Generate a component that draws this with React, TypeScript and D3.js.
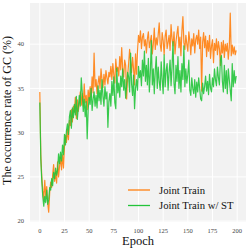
import React from "react";
import * as d3 from "d3";

const epochs: number[] = Array.from({ length: 200 }, (_, i) => i);

const jointTrain: number[] = [
  34.6, 27.5, 25.0, 23.5, 22.4, 24.6, 22.8, 23.9, 22.0, 21.0,
  23.2, 24.4, 23.8, 25.2, 26.4, 24.5, 25.5, 24.3, 26.7, 25.0,
  26.2, 27.2, 25.8, 27.5, 26.0, 28.5, 29.7, 28.9, 30.4, 29.2,
  31.4, 30.8, 32.6, 31.2, 33.0, 32.3, 34.0, 31.6, 33.7, 32.4,
  33.3, 34.6, 33.1, 34.4, 33.0, 35.5, 33.4, 34.2, 32.6, 34.8,
  33.6, 35.2, 34.0, 36.3, 34.5, 39.0, 35.2, 36.0, 34.4, 35.6,
  36.4, 35.0, 37.2, 36.0, 35.1, 36.6, 35.4, 37.0, 36.2, 35.5,
  36.8, 36.3, 37.5, 36.0, 37.8, 36.5, 35.6, 38.3, 36.9, 37.4,
  36.4, 38.6, 37.1, 39.6, 37.0, 36.3, 38.2, 37.6, 33.8, 36.5,
  37.8, 39.4, 38.0, 36.8, 38.5, 37.2, 35.4, 38.9, 36.6, 39.2,
  41.0, 40.2, 41.5, 39.5, 40.8, 41.2, 39.8, 40.5, 39.0, 40.6,
  41.4, 39.6, 40.3, 41.0, 38.9, 40.0, 41.8, 39.4, 40.7, 39.9,
  41.1, 42.4, 40.0, 39.2, 41.3, 40.4, 38.8, 40.9, 41.6, 39.5,
  40.2, 41.0, 39.3, 42.2, 40.6, 39.8, 41.4, 38.9, 40.3, 41.2,
  42.0, 39.6, 40.8, 38.7, 41.5, 43.1, 40.2, 39.4, 41.0, 40.0,
  39.2, 41.4, 40.4, 38.8, 40.6, 39.8, 41.2, 39.0, 40.5, 41.0,
  40.0, 41.6, 39.5, 40.8, 34.7, 40.2, 41.3, 39.6, 40.9, 38.6,
  40.4, 39.2, 41.0, 38.4, 39.8, 40.5, 37.9, 40.1, 39.3, 40.6,
  38.8, 40.3, 39.5, 37.6, 40.2, 39.0, 40.4, 38.5, 40.0, 39.2,
  40.1, 38.3, 39.6, 43.5, 38.7, 39.9, 38.9, 39.7, 38.8, 39.3,
];

const jointTrainST: number[] = [
  33.4, 27.0, 24.5, 22.8, 21.7, 22.8, 22.1, 23.5, 21.9, 22.4,
  23.8, 23.5, 24.8, 24.0, 25.5, 24.8, 26.0, 25.2, 25.8, 27.6,
  26.5, 27.8, 26.8, 28.6, 27.5, 29.8, 28.6, 30.2, 31.0, 29.8,
  31.8, 32.5, 30.5, 32.8, 31.7, 33.2, 32.0, 34.1, 31.5, 32.8,
  34.2, 33.0, 36.2, 34.5, 32.4, 33.8, 31.8, 33.5, 29.3, 32.6,
  34.0, 33.2, 35.0, 32.5, 33.8, 34.6, 33.0, 34.2, 32.8, 35.3,
  33.6, 34.8, 33.2, 36.0, 34.1, 33.0, 35.2, 33.8, 34.6, 30.6,
  33.5, 34.4, 33.0, 35.8, 34.2, 36.3, 33.4, 32.7, 37.3, 34.5,
  35.6, 34.0, 36.4, 35.2, 37.2, 34.8, 36.0, 33.9, 35.4, 36.8,
  36.3, 34.6, 39.0, 35.5, 34.2, 36.5, 32.7, 35.0, 36.0, 34.8,
  37.5, 36.2, 37.0, 35.3, 38.2, 36.4, 39.2, 35.8, 37.6, 35.4,
  38.4, 34.6, 36.8, 40.4, 35.4, 37.2, 34.4, 37.0, 38.6, 35.0,
  37.4, 35.8, 34.8, 38.0, 36.0, 34.4, 38.8, 35.2, 37.0, 37.8,
  34.8, 36.8, 38.2, 35.3, 37.4, 40.3, 35.6, 34.4, 37.6, 35.8,
  38.6, 35.0, 37.0, 34.6, 37.8, 36.0, 39.8, 35.2, 37.2, 35.6,
  36.6, 38.2, 34.8, 34.2, 36.2, 35.0, 34.4, 36.0, 34.0, 35.7,
  34.6, 36.2, 35.0, 33.8, 33.6, 35.6, 34.4, 35.2, 36.4, 34.7,
  35.8, 34.3, 36.6, 35.0, 34.6, 36.2, 35.2, 37.2, 36.0, 35.3,
  37.4, 36.2, 35.4, 38.2, 38.7, 35.8, 34.6, 37.6, 35.0, 37.0,
  34.4, 37.2, 36.0, 34.8, 33.6, 37.8, 35.2, 37.0, 35.6, 36.4,
];

const xTicks: number[] = [0, 25, 50, 75, 100, 125, 150, 175, 200];
const yTicks: number[] = [20, 25, 30, 35, 40];
const seriesNames: string[] = ["Joint Train", "Joint Train w/ ST"];
const seriesColors: string[] = ["#ff7f0e", "#22c43a"];

export default function App() {
  const W = 249;
  const H = 249;
  const left = 30;
  const right = 246;
  const top = 3;
  const bottom = 222;

  const x = d3.scaleLinear().domain([-9.95, 208.95]).range([left, right]);
  const y = d3.scaleLinear().domain([19.9, 44.65]).range([bottom, top]);

  const line = d3
    .line<number>()
    .x((_, i) => x(epochs[i]))
    .y((d) => y(d));

  const series = [jointTrain, jointTrainST];
  const font = "'Liberation Serif', 'DejaVu Serif', serif";

  return (
    <svg
      width={W}
      height={H}
      style={{ position: "absolute", left: 0, top: 0 }}
      fontFamily={font}
    >
      <rect x={0} y={0} width={W} height={H} fill="#ffffff" />
      <rect x={left} y={top} width={right - left} height={bottom - top} fill="#f2f2f2" />
      {xTicks.map((t) => (
        <line key={"gx" + t} x1={x(t)} x2={x(t)} y1={top} y2={bottom} stroke="#ffffff" strokeWidth={1} />
      ))}
      {yTicks.map((t) => (
        <line key={"gy" + t} x1={left} x2={right} y1={y(t)} y2={y(t)} stroke="#ffffff" strokeWidth={1} />
      ))}
      <defs>
        <clipPath id="plotclip">
          <rect x={left} y={top} width={right - left} height={bottom - top} />
        </clipPath>
      </defs>
      <g clipPath="url(#plotclip)">
        {series.map((s, i) => (
          <path
            key={i}
            d={line(s) || ""}
            fill="none"
            stroke={seriesColors[i]}
            strokeWidth={1.2}
            strokeLinejoin="round"
            opacity={0.9}
          />
        ))}
      </g>
      {xTicks.map((t) => (
        <text key={"tx" + t} x={x(t)} y={233} fontSize={6.5} fill="#444" textAnchor="middle">
          {t}
        </text>
      ))}
      {yTicks.map((t) => (
        <text key={"ty" + t} x={24} y={y(t) + 2.2} fontSize={6.5} fill="#444" textAnchor="end">
          {t}
        </text>
      ))}
      <text x={(left + right) / 2} y={245} fontSize={12.5} fill="#111" textAnchor="middle">
        Epoch
      </text>
      <text
        transform={`translate(11, ${(top + bottom) / 2 - 2}) rotate(-90)`}
        fontSize={12}
        fill="#111"
        textAnchor="middle"
      >
        The occurrence rate of GC (%)
      </text>
      {seriesNames.map((n, i) => (
        <g key={n} transform={`translate(128, ${190 + i * 15.5})`}>
          <line x1={0} x2={22} y1={0} y2={0} stroke={seriesColors[i]} strokeWidth={1.3} />
          <text x={31} y={3.6} fontSize={10.7} fill="#111">
            {n}
          </text>
        </g>
      ))}
    </svg>
  );
}
